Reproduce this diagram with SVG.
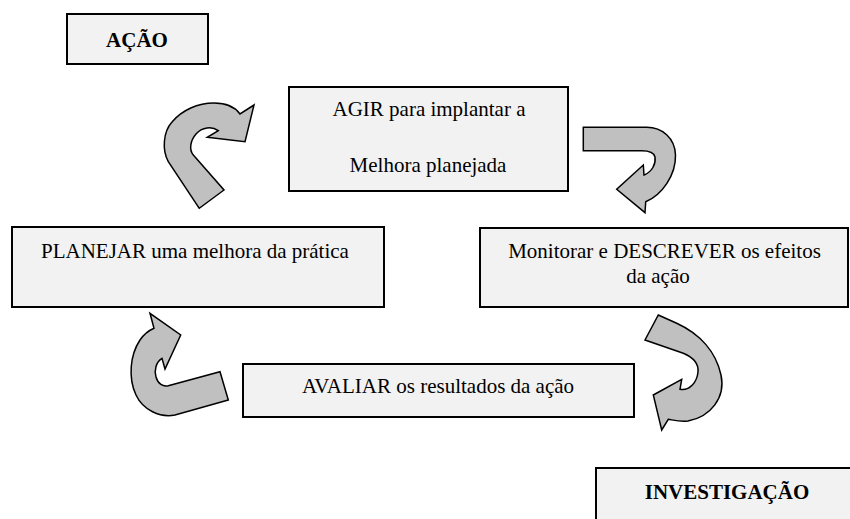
<svg xmlns="http://www.w3.org/2000/svg" width="850" height="519" viewBox="0 0 850 519">
<style>
.box{fill:#f2f2f2;stroke:#000;stroke-width:2}
.arrow{fill:#c0c0c0;stroke:#000;stroke-width:1.5;stroke-linejoin:miter}
.t{font-family:"Liberation Serif","Times New Roman",serif;font-size:21px;fill:#000}
.b{font-weight:bold}
.m{text-anchor:middle}
</style>
<rect width="850" height="519" fill="#fff"/>
<g id="acao">
<rect class="box" x="67" y="14" width="141" height="50"/>
<text class="t b m" x="137" y="47">AÇÃO</text>
</g>
<g id="agir">
<rect class="box" x="289" y="87" width="279" height="104"/>
<text class="t m" x="429" y="116">AGIR para implantar a</text>
<text class="t m" x="428" y="172">Melhora planejada</text>
</g>
<g id="planejar">
<rect class="box" x="12" y="227" width="372" height="80"/>
<text class="t" x="41" y="258">PLANEJAR uma melhora da prática</text>
</g>
<g id="monitorar">
<rect class="box" x="480" y="228" width="368" height="79"/>
<text class="t m" x="664.5" y="258">Monitorar e DESCREVER os efeitos</text>
<text class="t m" x="658" y="283">da ação</text>
</g>
<g id="avaliar">
<rect class="box" x="243" y="364" width="391" height="53"/>
<text class="t m" x="438" y="393">AVALIAR os resultados da ação</text>
</g>
<g id="investigacao">
<rect class="box" x="596" y="468" width="270" height="70"/>
<text class="t b m" x="727" y="499">INVESTIGAÇÃO</text>
</g>
<g id="connectors">
<path class="arrow" d="M199.3,208.3 L168.3,161.7 C162,150 163,132 172,122 C182,110 198,103 214,103 C226,103 235,107 240,114 L254,105 L245,141.7 L207.3,137.3 L218.3,130.7 C212,126 202,127 196,134 C190,141 189,150 193.3,155 L224,190 Z"/>
<path class="arrow" d="M583.3,127.3 L646.7,127.3 C662,127.3 675,138 675.5,155 C676,175 662,195 645.7,201.7 L645,212.7 L616.7,189.3 L643.3,165 L644,175 C652,172 656,164 655,157 C654,152 649,150.7 641.7,150.7 L583.3,150.7 Z"/>
<path class="arrow" d="M228.3,400 L175,415 C160,418 143,410 136,395 C128,378 130,355 140,340 C145,333 150,330 154,328.3 L150,313.3 L180.7,335 L165,369 L162,358.3 C156,362 154,370 156,377 C158,384 163,387 168.3,385.7 L220,371.7 Z"/>
<path class="arrow" d="M658.3,315 L676.7,323.3 C700,334 716,352 721,375 C726,398 710,417 688,421 C680,422 673,420 668.3,419.3 L661.7,430 L653.3,395 L681.7,379.3 L680,389.3 C690,391 697,382 698,372 C699,362 692,357 683.3,353.3 L645,340 Z"/>
</g>
</svg>
